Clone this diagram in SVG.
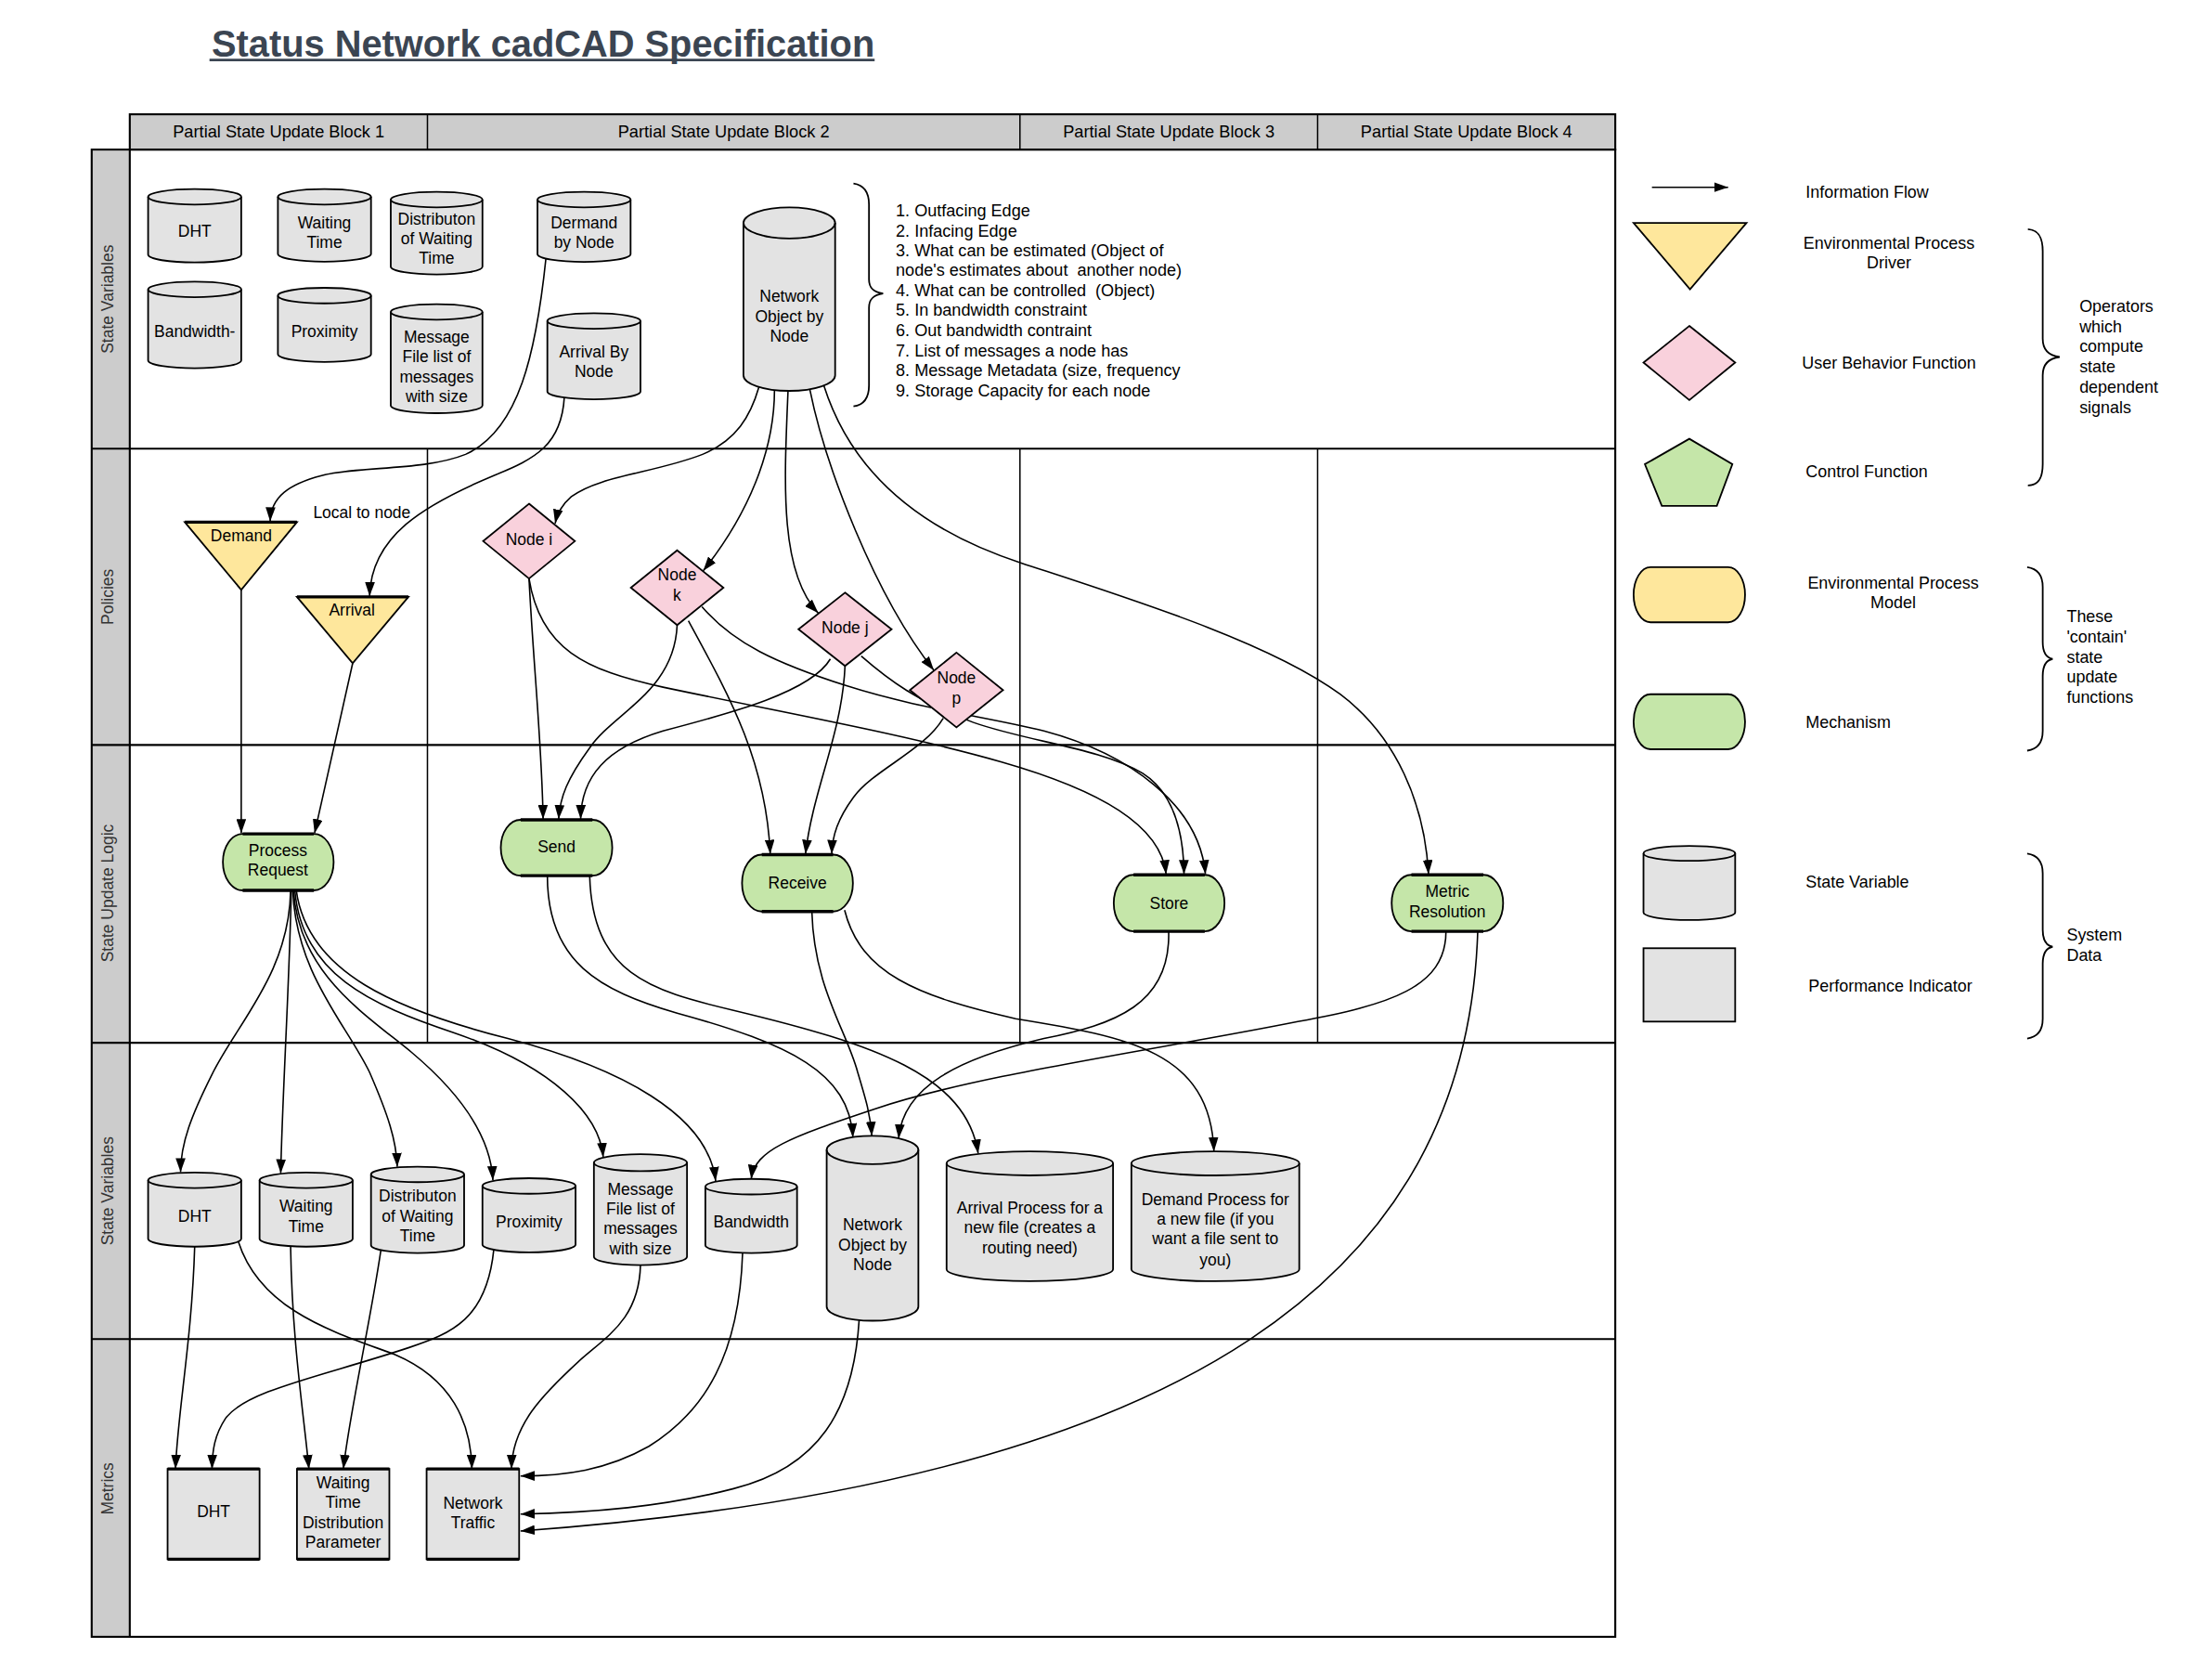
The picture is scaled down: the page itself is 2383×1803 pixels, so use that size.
<svg xmlns="http://www.w3.org/2000/svg" width="2383" height="1803" viewBox="0 0 2383 1803">
<defs>
<style>
.f{font-family:"Liberation Sans",Arial,Helvetica,sans-serif}
.n{font-size:11.5px;fill:#000;text-anchor:middle}
.l{font-size:11.8px;fill:#000}
.lc{text-anchor:middle}
.h{font-size:12px;fill:#000;text-anchor:middle}
.li{font-size:11.9px;fill:#000}
.lane{font-size:11.5px;fill:#333;text-anchor:middle}
.cyl{fill:#e3e3e3;stroke:#000;stroke-width:1.2}
.arc{fill:none;stroke:#000;stroke-width:1.2}
.yel{fill:#fee79c;stroke:#000;stroke-width:1.2}
.pink{fill:#f9d1dc;stroke:#000;stroke-width:1.2}
.grn{fill:#c5e6a9;stroke:#000;stroke-width:1.2}
.gry{fill:#e3e3e3;stroke:#000;stroke-width:1.2}
.thk{stroke:#000;stroke-width:2.2;fill:none}
.c{fill:none;stroke:#000;stroke-width:1.05}
.a{marker-end:url(#ah)}
.fr{fill:none;stroke:#000;stroke-width:1.4}
.dv{stroke:#000;stroke-width:1}
.br{fill:none;stroke:#000;stroke-width:1.2}
</style>
<marker id="ah" markerUnits="userSpaceOnUse" markerWidth="10" markerHeight="7" refX="10" refY="3.5" orient="auto"><path d="M0,0 L10,3.5 L0,7 Z" fill="#000"/></marker>
</defs>
<rect width="2383" height="1803" fill="#fff"/>
<g transform="scale(1.51977)">

<g id="title">
<text class="f" x="150" y="40" font-size="26.2" font-weight="bold" fill="#3b4552">Status Network cadCAD Specification</text>
<line x1="148.5" y1="42.6" x2="620" y2="42.6" stroke="#3b4552" stroke-width="1.8"/>
</g>

<g id="frame">
<rect x="92" y="81" width="1053" height="25" fill="#cccccc" stroke="#000" stroke-width="1.4"/>
<line class="dv" x1="303" y1="81" x2="303" y2="106"/>
<line class="dv" x1="723" y1="81" x2="723" y2="106"/>
<line class="dv" x1="934" y1="81" x2="934" y2="106"/>
<text class="f h" x="197.5" y="97.5">Partial State Update Block 1</text>
<text class="f h" x="513" y="97.5">Partial State Update Block 2</text>
<text class="f h" x="828.5" y="97.5">Partial State Update Block 3</text>
<text class="f h" x="1039.5" y="97.5">Partial State Update Block 4</text>
<rect x="65" y="106" width="27" height="1054" fill="#cccccc"/>
<rect class="fr" x="65" y="106" width="1080" height="1054"/>
<line class="fr" x1="92" y1="106" x2="92" y2="1160"/>
<line class="fr" x1="65" y1="318" x2="1145" y2="318"/>
<line class="fr" x1="65" y1="528" x2="1145" y2="528"/>
<line class="fr" x1="65" y1="739" x2="1145" y2="739"/>
<line class="fr" x1="65" y1="949" x2="1145" y2="949"/>
<line class="dv" x1="303" y1="318" x2="303" y2="739"/>
<line class="dv" x1="723" y1="318" x2="723" y2="739"/>
<line class="dv" x1="934" y1="318" x2="934" y2="739"/>
<text class="f lane" transform="translate(80.6,212) rotate(-90)">State Variables</text>
<text class="f lane" transform="translate(80.6,423) rotate(-90)">Policies</text>
<text class="f lane" transform="translate(80.6,633) rotate(-90)">State Update Logic</text>
<text class="f lane" transform="translate(80.6,844) rotate(-90)">State Variables</text>
<text class="f lane" transform="translate(80.6,1055) rotate(-90)">Metrics</text>
</g>

<g id="connectors">
<path class="c a" d="M387,183 C380,250 368,305 330,322 C300,334 255,330 228,337 C205,343 192,352 191.5,369.5"/>
<path class="c a" d="M400,281.7 C398,315 380,325 350,337 C300,358 263,380 262,422.5"/>
<path class="c a" d="M538,274.2 C532,295 522,312 498,322 C465,335 425,337 405,352 C398,358 395,364 393.5,371"/>
<path class="c a" d="M549,276.4 C549,320 530,365 498.5,404.5"/>
<path class="c a" d="M558.6,277 C556,340 552,405 580,434.5"/>
<path class="c a" d="M574,275.8 C585,330 620,422 662,475"/>
<path class="c a" d="M584,273.2 C603,333 650,375 724,399 C800,424 900,455 950,492 C990,522 1010,570 1012.6,619.5"/>
<path class="c a" d="M171,418 L171,590.5"/>
<path class="c a" d="M250,470 L223,590.5"/>
<path class="c a" d="M375,410 C378,470 384,525 385,580.5"/>
<path class="c a" d="M375,410 C383,460 415,475 470,487 C560,506 640,520 710,540 C780,560 823,585 826.6,619.5"/>
<path class="c a" d="M480,443 C478,490 435,505 418,530 C402,552 397,565 396,580.5"/>
<path class="c a" d="M488,440 C518,495 543,540 546,605.2"/>
<path class="c a" d="M497.6,430 C520,456 550,470 600,486 C650,502 700,508 740,518 C800,534 850,570 854.5,619.5"/>
<path class="c a" d="M610.5,465 C630,482 650,497 690,512 C730,526 780,530 810,548 C832,562 839,590 839.3,619.5"/>
<path class="c a" d="M588.6,467 C575,490 520,505 470,518 C430,530 412,550 411.6,580.5"/>
<path class="c a" d="M599,472 C597,520 576,560 571,605.2"/>
<path class="c a" d="M668.6,509 C655,532 620,545 605,565 C594,580 590,592 589.6,605.2"/>
<path class="c a" d="M206,631 C205,690 168,725 150,762 C136,790 128,810 128,830.8"/>
<path class="c a" d="M206.5,631 C205,700 200,780 199,831.5"/>
<path class="c a" d="M207.5,631 C210,690 245,725 262,760 C275,790 281,808 281.6,827"/>
<path class="c a" d="M208,631 C212,690 258,718 292,746 C330,778 348,808 349.4,836.5"/>
<path class="c a" d="M209,631 C214,690 262,712 322,732 C392,756 425,790 427.6,820"/>
<path class="c a" d="M210,631 C218,690 282,716 360,736 C440,757 502,790 507.3,837"/>
<path class="c a" d="M388,620.6 C388,682 425,702 480,718 C560,740 602,760 604.6,806"/>
<path class="c a" d="M418,620.6 C420,690 460,702 520,716 C620,740 685,762 693.4,817.5"/>
<path class="c a" d="M575.5,646 C577,700 600,730 608,760 C614,780 617,790 618,805"/>
<path class="c a" d="M598.7,645 C610,690 650,706 720,722 C800,735 858,745 860.5,816"/>
<path class="c a" d="M828.4,660 C830,712 790,726 740,736 C680,750 640,770 637,806.8"/>
<path class="c a" d="M1025,660 C1025,700 985,712 920,724 C820,744 690,762 620,786 C560,806 535,815 532.5,835.5"/>
<path class="c a" d="M1047.5,660 C1040,900 850,1050 369,1085"/>
<path class="c a" d="M138,883.5 C136,950 126,1000 124.4,1041"/>
<path class="c a" d="M169,880 C185,930 240,945 280,960 C320,977 334,1008 334.5,1041"/>
<path class="c a" d="M206,883.2 C207,950 215,1000 219,1041"/>
<path class="c a" d="M270,885.9 C262,940 248,1000 243.4,1041"/>
<path class="c a" d="M350,885.7 C345,935 320,945 290,955 C230,975 175,985 160,1005 C152,1017 150.5,1028 150.3,1041"/>
<path class="c a" d="M454,896.6 C453,935 430,947 410,965 C385,988 363,1010 362.6,1041"/>
<path class="c a" d="M526.4,887.8 C524,960 500,1000 460,1025 C430,1042 400,1046 369,1046"/>
<path class="c a" d="M609,935.6 C605,1000 580,1040 520,1055 C470,1068 420,1072 369,1073"/>
</g>

<g id="sv1-dht"><path class="cyl" d="M105,139.5 V180.5 A33,5.5 0 0 0 171,180.5 V139.5 A33,5.5 0 0 0 105,139.5 Z"/><path class="arc" d="M105,139.5 A33,5.5 0 0 0 171,139.5"/><text class="f n" x="138" y="168">DHT</text></g>
<g id="sv1-waiting-time"><path class="cyl" d="M197,139.5 V180 A33,5.5 0 0 0 263,180 V139.5 A33,5.5 0 0 0 197,139.5 Z"/><path class="arc" d="M197,139.5 A33,5.5 0 0 0 263,139.5"/><text class="f n" x="230" y="162">Waiting</text><text class="f n" x="230" y="175.5">Time</text></g>
<g id="sv1-distribution"><path class="cyl" d="M277,141.5 V189 A32.5,5.5 0 0 0 342,189 V141.5 A32.5,5.5 0 0 0 277,141.5 Z"/><path class="arc" d="M277,141.5 A32.5,5.5 0 0 0 342,141.5"/><text class="f n" x="309.5" y="159.3">Distributon</text><text class="f n" x="309.5" y="173.3">of Waiting</text><text class="f n" x="309.5" y="187">Time</text></g>
<g id="sv1-dermand"><path class="cyl" d="M381,141.5 V180.1 A33,5.5 0 0 0 447,180.1 V141.5 A33,5.5 0 0 0 381,141.5 Z"/><path class="arc" d="M381,141.5 A33,5.5 0 0 0 447,141.5"/><text class="f n" x="414" y="162">Dermand</text><text class="f n" x="414" y="175.5">by Node</text></g>
<g id="sv1-bandwidth"><path class="cyl" d="M105,205.1 V255.5 A33,5.5 0 0 0 171,255.5 V205.1 A33,5.5 0 0 0 105,205.1 Z"/><path class="arc" d="M105,205.1 A33,5.5 0 0 0 171,205.1"/><text class="f n" x="138" y="239">Bandwidth-</text></g>
<g id="sv1-proximity"><path class="cyl" d="M197,209.5 V251 A33,5.5 0 0 0 263,251 V209.5 A33,5.5 0 0 0 197,209.5 Z"/><path class="arc" d="M197,209.5 A33,5.5 0 0 0 263,209.5"/><text class="f n" x="230" y="238.8">Proximity</text></g>
<g id="sv1-message"><path class="cyl" d="M277,221.1 V287.3 A32.5,5.5 0 0 0 342,287.3 V221.1 A32.5,5.5 0 0 0 277,221.1 Z"/><path class="arc" d="M277,221.1 A32.5,5.5 0 0 0 342,221.1"/><text class="f n" x="309.5" y="242.6">Message</text><text class="f n" x="309.5" y="256.6">File list of</text><text class="f n" x="309.5" y="271">messages</text><text class="f n" x="309.5" y="284.7">with size</text></g>
<g id="sv1-arrival-by-node"><path class="cyl" d="M388,227.5 V277.5 A33,5.5 0 0 0 454,277.5 V227.5 A33,5.5 0 0 0 388,227.5 Z"/><path class="arc" d="M388,227.5 A33,5.5 0 0 0 454,227.5"/><text class="f n" x="421" y="253.4">Arrival By</text><text class="f n" x="421" y="267.2">Node</text></g>
<g id="sv1-network-object"><path class="cyl" d="M527,158 V266 A32.5,11 0 0 0 592,266 V158 A32.5,11 0 0 0 527,158 Z"/><path class="arc" d="M527,158 A32.5,11 0 0 0 592,158"/><text class="f n" x="559.5" y="214">Network</text><text class="f n" x="559.5" y="228">Object by</text><text class="f n" x="559.5" y="242">Node</text></g>

<g id="network-object-notes">
<path class="br" d="M605,130 C612,131 616,136 616,145 L616,198 C616,204 619,207 626,208 C619,209 616,212 616,218 L616,273 C616,282 612,287 605,288"/>
<text class="f li" xml:space="preserve" x="635"><tspan x="635" y="153.5">1. Outfacing Edge</tspan><tspan x="635" y="167.5">2. Infacing Edge</tspan><tspan x="635" y="181.5">3. What can be estimated (Object of</tspan><tspan x="635" y="195.5">node's estimates about  another node)</tspan><tspan x="635" y="210">4. What can be controlled  (Object)</tspan><tspan x="635" y="224">5. In bandwidth constraint</tspan><tspan x="635" y="238.5">6. Out bandwidth contraint</tspan><tspan x="635" y="252.5">7. List of messages a node has</tspan><tspan x="635" y="266.5">8. Message Metadata (size, frequency</tspan><tspan x="635" y="281">9. Storage Capacity for each node</tspan></text>
</g>

<g id="pol-demand"><path class="yel" d="M131,370 L210.5,370 L171,418 Z"/><line class="thk" x1="131" y1="370" x2="210.5" y2="370"/><text class="f n" x="171" y="383.6">Demand</text></g>
<g id="pol-arrival"><path class="yel" d="M210.5,423 L289.5,423 L250,470 Z"/><line class="thk" x1="210.5" y1="423" x2="289.5" y2="423"/><text class="f n" x="249.5" y="436">Arrival</text></g>
<text id="local-to-node" class="f" font-size="11.5" x="222" y="367.4">Local to node</text>
<g id="pol-node-i"><path class="pink" d="M375,357 L407.5,383.5 L375,410 L342.5,383.5 Z"/><text class="f n" x="375" y="386">Node i</text></g>
<g id="pol-node-k"><path class="pink" d="M480,390 L512.8,416.5 L480,443 L447.2,416.5 Z"/><text class="f n" x="480" y="411">Node</text><text class="f n" x="480" y="426">k</text></g>
<g id="pol-node-j"><path class="pink" d="M599,420 L632,446 L599,472 L566,446 Z"/><text class="f n" x="599" y="449">Node j</text></g>
<g id="pol-node-p"><path class="pink" d="M678,462.5 L711,489 L678,515.5 L645,489 Z"/><text class="f n" x="678" y="484">Node</text><text class="f n" x="678" y="498.6">p</text></g>

<g id="sul-process-request"><path class="grn" d="M172,591 H222.5 A14,20 0 0 1 222.5,631 H172 A14,20 0 0 1 172,591 Z"/><path class="thk" d="M172,591 H222.5 M172,631 H222.5"/><text class="f n" x="197" y="606.6">Process</text><text class="f n" x="197" y="620.3">Request</text></g>
<g id="sul-send"><path class="grn" d="M369,581 H420 A14,19.8 0 0 1 420,620.6 H369 A14,19.8 0 0 1 369,581 Z"/><path class="thk" d="M369,581 H420 M369,620.6 H420"/><text class="f n" x="394.5" y="604">Send</text></g>
<g id="sul-receive"><path class="grn" d="M540,605.7 H590.6 A14,20.15 0 0 1 590.6,646 H540 A14,20.15 0 0 1 540,605.7 Z"/><path class="thk" d="M540,605.7 H590.6 M540,646 H590.6"/><text class="f n" x="565.3" y="629.8">Receive</text></g>
<g id="sul-store"><path class="grn" d="M803.5,620 H854 A14,20 0 0 1 854,660 H803.5 A14,20 0 0 1 803.5,620 Z"/><path class="thk" d="M803.5,620 H854 M803.5,660 H854"/><text class="f n" x="828.7" y="644">Store</text></g>
<g id="sul-metric-resolution"><path class="grn" d="M1000.5,620 H1051.5 A14,20 0 0 1 1051.5,660 H1000.5 A14,20 0 0 1 1000.5,620 Z"/><path class="thk" d="M1000.5,620 H1051.5 M1000.5,660 H1051.5"/><text class="f n" x="1026" y="635.6">Metric</text><text class="f n" x="1026" y="649.8">Resolution</text></g>

<g id="sv2-dht"><path class="cyl" d="M105,836.5 V878 A33,5.5 0 0 0 171,878 V836.5 A33,5.5 0 0 0 105,836.5 Z"/><path class="arc" d="M105,836.5 A33,5.5 0 0 0 171,836.5"/><text class="f n" x="138" y="866">DHT</text></g>
<g id="sv2-waiting-time"><path class="cyl" d="M184,836.5 V878 A33,5.5 0 0 0 250,878 V836.5 A33,5.5 0 0 0 184,836.5 Z"/><path class="arc" d="M184,836.5 A33,5.5 0 0 0 250,836.5"/><text class="f n" x="217" y="859">Waiting</text><text class="f n" x="217" y="873">Time</text></g>
<g id="sv2-distribution"><path class="cyl" d="M263,832.3 V882.5 A33,5.5 0 0 0 329,882.5 V832.3 A33,5.5 0 0 0 263,832.3 Z"/><path class="arc" d="M263,832.3 A33,5.5 0 0 0 329,832.3"/><text class="f n" x="296" y="851.6">Distributon</text><text class="f n" x="296" y="866">of Waiting</text><text class="f n" x="296" y="880">Time</text></g>
<g id="sv2-proximity"><path class="cyl" d="M342,840.5 V882.1 A33,5.5 0 0 0 408,882.1 V840.5 A33,5.5 0 0 0 342,840.5 Z"/><path class="arc" d="M342,840.5 A33,5.5 0 0 0 408,840.5"/><text class="f n" x="375" y="870">Proximity</text></g>
<g id="sv2-message"><path class="cyl" d="M421,824 V890.6 A33,6 0 0 0 487,890.6 V824 A33,6 0 0 0 421,824 Z"/><path class="arc" d="M421,824 A33,6 0 0 0 487,824"/><text class="f n" x="454" y="847">Message</text><text class="f n" x="454" y="860.6">File list of</text><text class="f n" x="454" y="874.6">messages</text><text class="f n" x="454" y="889">with size</text></g>
<g id="sv2-bandwidth"><path class="cyl" d="M500,841 V882.5 A32.5,5.5 0 0 0 565,882.5 V841 A32.5,5.5 0 0 0 500,841 Z"/><path class="arc" d="M500,841 A32.5,5.5 0 0 0 565,841"/><text class="f n" x="532.5" y="870">Bandwidth</text></g>
<g id="sv2-network-object"><path class="cyl" d="M586,815 V926 A32.5,10 0 0 0 651,926 V815 A32.5,10 0 0 0 586,815 Z"/><path class="arc" d="M586,815 A32.5,10 0 0 0 651,815"/><text class="f n" x="618.5" y="872">Network</text><text class="f n" x="618.5" y="886">Object by</text><text class="f n" x="618.5" y="900">Node</text></g>
<g id="sv2-arrival-process"><path class="cyl" d="M671,824.5 V899.5 A59,8.5 0 0 0 789,899.5 V824.5 A59,8.5 0 0 0 671,824.5 Z"/><path class="arc" d="M671,824.5 A59,8.5 0 0 0 789,824.5"/><text class="f n" x="730" y="860">Arrival Process for a</text><text class="f n" x="730" y="874">new file (creates a</text><text class="f n" x="730" y="888">routing need)</text></g>
<g id="sv2-demand-process"><path class="cyl" d="M802,824.5 V899.5 A59.5,8.5 0 0 0 921,899.5 V824.5 A59.5,8.5 0 0 0 802,824.5 Z"/><path class="arc" d="M802,824.5 A59.5,8.5 0 0 0 921,824.5"/><text class="f n" x="861.5" y="854">Demand Process for</text><text class="f n" x="861.5" y="868">a new file (if you</text><text class="f n" x="861.5" y="882">want a file sent to</text><text class="f n" x="861.5" y="896.6">you)</text></g>

<g id="met-dht"><rect class="gry" x="118.8" y="1041" width="65.2" height="64"/><path class="thk" d="M118.8,1041 H184 M118.8,1105 H184"/><text class="f n" x="151.4" y="1075">DHT</text></g>
<g id="met-waiting-time-distribution"><rect class="gry" x="210.5" y="1041" width="65.5" height="64"/><path class="thk" d="M210.5,1041 H276 M210.5,1105 H276"/><text class="f n" x="243.2" y="1054.5">Waiting</text><text class="f n" x="243.2" y="1068.5">Time</text><text class="f n" x="243.2" y="1083">Distribution</text><text class="f n" x="243.2" y="1097">Parameter</text></g>
<g id="met-network-traffic"><rect class="gry" x="302.4" y="1041" width="65.6" height="64"/><path class="thk" d="M302.4,1041 H368 M302.4,1105 H368"/><text class="f n" x="335.2" y="1069">Network</text><text class="f n" x="335.2" y="1083">Traffic</text></g>

<g id="legend">
<line class="c a" x1="1171" y1="132.7" x2="1225" y2="132.7"/>
<text class="f l" x="1280" y="140">Information Flow</text>
<path class="yel" d="M1158,158 L1238,158 L1198,205 Z"/>
<text class="f l lc" x="1339" y="176.5">Environmental Process</text>
<text class="f l lc" x="1339" y="190">Driver</text>
<path class="pink" d="M1197.5,231 L1230,257 L1197.5,283.5 L1165,257 Z"/>
<text class="f l lc" x="1339" y="261">User Behavior Function</text>
<path class="grn" d="M1197.5,311 L1228,329 L1217,358.5 L1178,358.5 L1166,329 Z"/>
<text class="f l" x="1280" y="338.5">Control Function</text>
<path class="br" d="M1437.5,162.5 C1445,163 1448,168 1448,178 L1448,240 C1448,248 1452,252 1460,253 C1452,254 1448,258 1448,266 L1448,329 C1448,339 1445,344 1437.5,344"/>
<text class="f l" x="1474"><tspan x="1474" y="221">Operators</tspan><tspan x="1474" y="235.3">which</tspan><tspan x="1474" y="249.6">compute</tspan><tspan x="1474" y="263.9">state</tspan><tspan x="1474" y="278.2">dependent</tspan><tspan x="1474" y="292.5">signals</tspan></text>
<path class="yel" d="M1170,402 H1225 A12,19.5 0 0 1 1225,441 H1170 A12,19.5 0 0 1 1170,402 Z"/>
<text class="f l lc" x="1342" y="417">Environmental Process</text>
<text class="f l lc" x="1342" y="431">Model</text>
<path class="grn" d="M1170,492 H1225 A12,19.5 0 0 1 1225,531 H1170 A12,19.5 0 0 1 1170,492 Z"/>
<text class="f l" x="1280" y="516">Mechanism</text>
<path class="br" d="M1437,402 C1444,403 1448,407 1448,416 L1448,455 C1448,462 1450,466 1455,467 C1450,468 1448,472 1448,479 L1448,518 C1448,527 1444,531 1437,532"/>
<text class="f l" x="1465"><tspan x="1465" y="441">These</tspan><tspan x="1465" y="455.3">'contain'</tspan><tspan x="1465" y="469.6">state</tspan><tspan x="1465" y="483.9">update</tspan><tspan x="1465" y="498.2">functions</tspan></text>
<path class="cyl" d="M1165,604.8 V646.7 A32.5,5.3 0 0 0 1230,646.7 V604.8 A32.5,5.3 0 0 0 1165,604.8 Z"/>
<path class="arc" d="M1165,604.8 A32.5,5.3 0 0 0 1230,604.8"/>
<text class="f l" x="1280" y="629">State Variable</text>
<rect class="gry" x="1165" y="672" width="65" height="52"/>
<text class="f l" x="1282" y="703">Performance Indicator</text>
<path class="br" d="M1437,605 C1444,606 1448,610 1448,619 L1448,659 C1448,666 1450,670 1455,671 C1450,672 1448,676 1448,683 L1448,722 C1448,731 1444,735 1437,736"/>
<text class="f l" x="1465"><tspan x="1465" y="666.5">System</tspan><tspan x="1465" y="681">Data</tspan></text>
</g>

</g>
</svg>
